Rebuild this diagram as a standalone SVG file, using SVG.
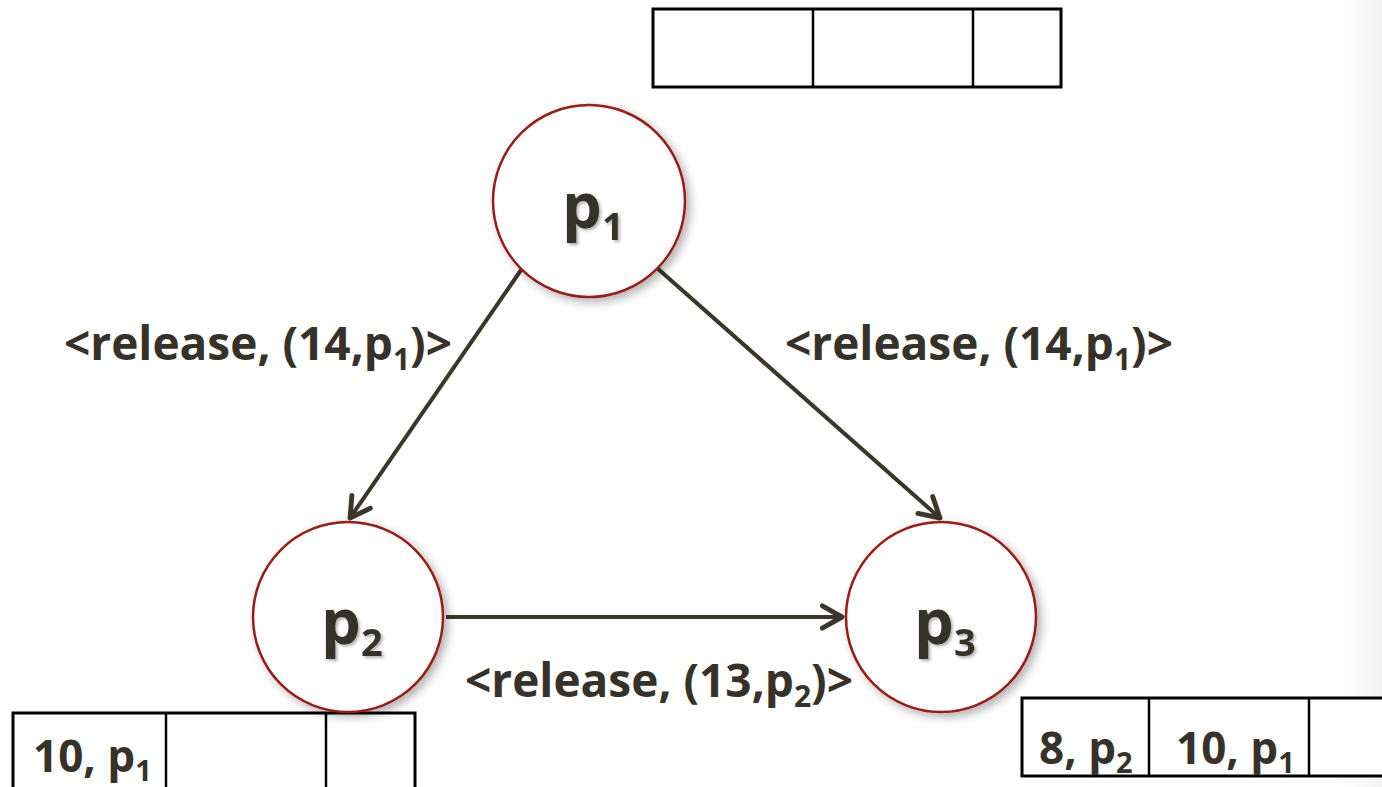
<svg xmlns="http://www.w3.org/2000/svg" width="1382" height="787" viewBox="0 0 1382 787">
  <defs>
    <style>
      .node { fill: #ffffff; stroke: #9b1b12; stroke-width: 2.5; filter: url(#glow); }
      .name { font-family: "Open Sans", "Liberation Sans", sans-serif; font-weight: 700; fill: #36322a; filter: url(#tshadow); }
      .label { font-family: "Open Sans", "Liberation Sans", sans-serif; font-weight: 700; font-size: 46px; fill: #36322a; }
      .cell { font-family: "Open Sans", "Liberation Sans", sans-serif; font-weight: 700; font-size: 44px; fill: #36322a; }
      .edge { stroke: #3a3629; stroke-width: 4; fill: none; marker-end: url(#arrow); }
      .queue { fill: #ffffff; stroke: #000000; stroke-width: 3; }
      .div { stroke: #000000; stroke-width: 2.5; }
    </style>
    <filter id="glow" x="-20%" y="-20%" width="150%" height="150%">
      <feDropShadow dx="4" dy="4" stdDeviation="5" flood-color="#000000" flood-opacity="0.3"/>
    </filter>
    <filter id="tshadow" x="-20%" y="-20%" width="150%" height="150%">
      <feDropShadow dx="2" dy="2" stdDeviation="1.5" flood-color="#000000" flood-opacity="0.3"/>
    </filter>
    <marker id="arrow" viewBox="0 0 20 20" refX="17" refY="10" markerWidth="7" markerHeight="7" markerUnits="strokeWidth" orient="auto">
      <path d="M3,2 L17,10 L3,18" fill="none" stroke="#3a3629" stroke-width="3.5" stroke-linecap="round" stroke-linejoin="round"/>
    </marker>
    <linearGradient id="edgeShade" x1="0" y1="0" x2="1" y2="0">
      <stop offset="0" stop-color="#ffffff" stop-opacity="0"/>
      <stop offset="1" stop-color="#e8e8e8" stop-opacity="0.6"/>
    </linearGradient>
  </defs>

  <rect width="1382" height="787" fill="#ffffff"/>
  <rect x="1320" y="0" width="62" height="787" fill="url(#edgeShade)"/>

  <!-- message queues -->
  <g id="queue-top">
    <rect class="queue" x="653" y="9" width="408" height="78"/>
    <line class="div" x1="813" y1="9" x2="813" y2="87"/>
    <line class="div" x1="973" y1="9" x2="973" y2="87"/>
  </g>

  <g id="queue-p2">
    <rect class="queue" x="13" y="713" width="402" height="90"/>
    <line class="div" x1="166" y1="713" x2="166" y2="787"/>
    <line class="div" x1="326" y1="713" x2="326" y2="787"/>
    <text class="cell" x="33" y="772">10, p<tspan font-size="29" dy="9">1</tspan></text>
  </g>

  <g id="queue-p3">
    <rect class="queue" x="1022" y="698" width="380" height="78"/>
    <line class="div" x1="1149" y1="698" x2="1149" y2="776"/>
    <line class="div" x1="1309" y1="698" x2="1309" y2="776"/>
    <text class="cell" x="1039" y="764">8, p<tspan font-size="29" dy="9">2</tspan></text>
    <text class="cell" x="1176" y="764">10, p<tspan font-size="29" dy="9">1</tspan></text>
  </g>

  <!-- release messages -->
  <g id="connectors">
    <line class="edge" x1="521" y1="270" x2="350" y2="518"/>
    <line class="edge" x1="657" y1="268" x2="940" y2="518"/>
    <line class="edge" x1="446" y1="617" x2="842" y2="617"/>
  </g>

  <g id="labels">
    <text class="label" x="64" y="360">&lt;release, (14,p<tspan font-size="30" dy="10">1</tspan><tspan dy="-10">)&gt;</tspan></text>
    <text class="label" x="785" y="360">&lt;release, (14,p<tspan font-size="30" dy="10">1</tspan><tspan dy="-10">)&gt;</tspan></text>
    <text class="label" x="465" y="697">&lt;release, (13,p<tspan font-size="30" dy="10">2</tspan><tspan dy="-10">)&gt;</tspan></text>
  </g>

  <!-- processes -->
  <g id="p1">
    <circle class="node" cx="589" cy="201" r="96"/>
    <text class="name" x="562" y="228" font-size="63">p<tspan font-size="38" dy="12">1</tspan></text>
  </g>
  <g id="p2">
    <circle class="node" cx="348" cy="617" r="95"/>
    <text class="name" x="321" y="644" font-size="63">p<tspan font-size="38" dy="12">2</tspan></text>
  </g>
  <g id="p3">
    <circle class="node" cx="941" cy="617" r="95"/>
    <text class="name" x="914" y="644" font-size="63">p<tspan font-size="38" dy="12">3</tspan></text>
  </g>
</svg>
